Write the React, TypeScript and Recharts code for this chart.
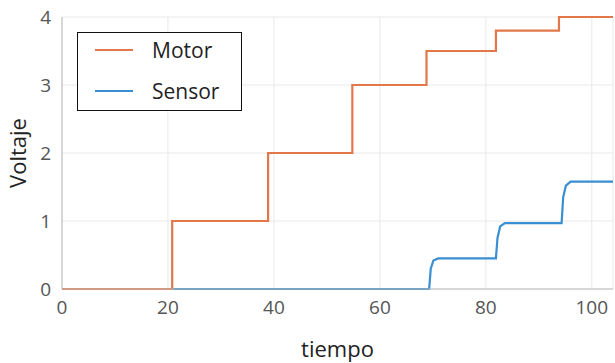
import { LineChart, Line, XAxis, YAxis, CartesianGrid } from 'recharts';

// step readings (tiempo, voltaje)
const motorT = [0, 20.8, 20.8, 38.9, 38.9, 54.8, 54.8, 68.8, 68.8, 81.9, 81.9, 93.8, 93.8, 104];
const motorV = [0, 0, 1, 1, 2, 2, 3, 3, 3.5, 3.5, 3.8, 3.8, 4, 4];

const sensorT = [21, 69.3, 69.6, 70.1, 71, 81.9, 82.2, 82.7, 83.6, 94.3, 94.6, 95.1, 96, 104];
const sensorV = [0, 0, 0.3, 0.42, 0.45, 0.45, 0.75, 0.92, 0.97, 0.97, 1.35, 1.52, 1.58, 1.58];

const xTicks = [0, 20, 40, 60, 80, 100];
const yTicks = [0, 1, 2, 3, 4];

const motor = motorT.map((t, i) => ({ t, v: motorV[i] }));
const sensor = sensorT.map((t, i) => ({ t, v: sensorV[i] }));

const MOTOR = '#e2774a';
const SENSOR = '#3a8ed2';
const FONT = '"Open Sans", sans-serif';

const LegendBox = () => (
  <div style={{
    position: 'absolute', left: 77, top: 32, width: 165, height: 79,
    border: '1.5px solid #111', background: '#fff',
    fontFamily: FONT, fontSize: 21, color: '#222', boxSizing: 'border-box',
  }}>
    {[['Motor', MOTOR], ['Sensor', SENSOR]].map(([name, c], i) => (
      <div key={name} style={{ position: 'absolute', left: 0, top: i === 0 ? 2 : 43, display: 'flex', alignItems: 'center', height: 30 }}>
        <span style={{ display: 'inline-block', marginLeft: 17, width: 38, height: 2, background: c }} />
        <span style={{ marginLeft: 19 }}>{name}</span>
      </div>
    ))}
  </div>
);

export default function App() {
  const tick = { fill: '#555', fontSize: 19, fontFamily: FONT };
  return (
    <div style={{ position: 'absolute', left: 0, top: 0, width: 615, height: 363, background: '#fff' }}>
      <LineChart width={615} height={363} margin={{ top: 17, right: 2, bottom: 0, left: 0 }}>
        <CartesianGrid stroke="#e8e8e8" />
        <XAxis
          type="number" dataKey="t" domain={[0, 104]} ticks={xTicks} allowDataOverflow
          tick={tick} tickLine={false} tickMargin={6} axisLine={{ stroke: '#bbb' }} height={74}
          label={{ value: 'tiempo', position: 'insideBottom', offset: 6, fill: '#222', fontSize: 22, fontFamily: FONT }}
        />
        <XAxis xAxisId="top" orientation="top" type="number" domain={[0, 104]} height={0} tick={false} tickLine={false} axisLine={{ stroke: '#bbb' }} />
        <YAxis
          type="number" domain={[0, 4]} ticks={yTicks} width={62}
          tick={tick} tickLine={false} tickMargin={5} axisLine={{ stroke: '#bbb' }}
          label={{ value: 'Voltaje', angle: -90, position: 'insideLeft', offset: 18, fill: '#222', fontSize: 22, fontFamily: FONT, style: { textAnchor: 'middle' } }}
        />
        <YAxis yAxisId="right" orientation="right" domain={[0, 4]} width={0} tick={false} tickLine={false} axisLine={{ stroke: '#bbb' }} />
        <Line data={sensor} dataKey="v" name="Sensor" type="linear" stroke={SENSOR} strokeWidth={2.2} dot={false} isAnimationActive={false} />
        <Line data={motor} dataKey="v" name="Motor" type="linear" stroke={MOTOR} strokeWidth={2.2} dot={false} isAnimationActive={false} />
      </LineChart>
      <LegendBox />
    </div>
  );
}
